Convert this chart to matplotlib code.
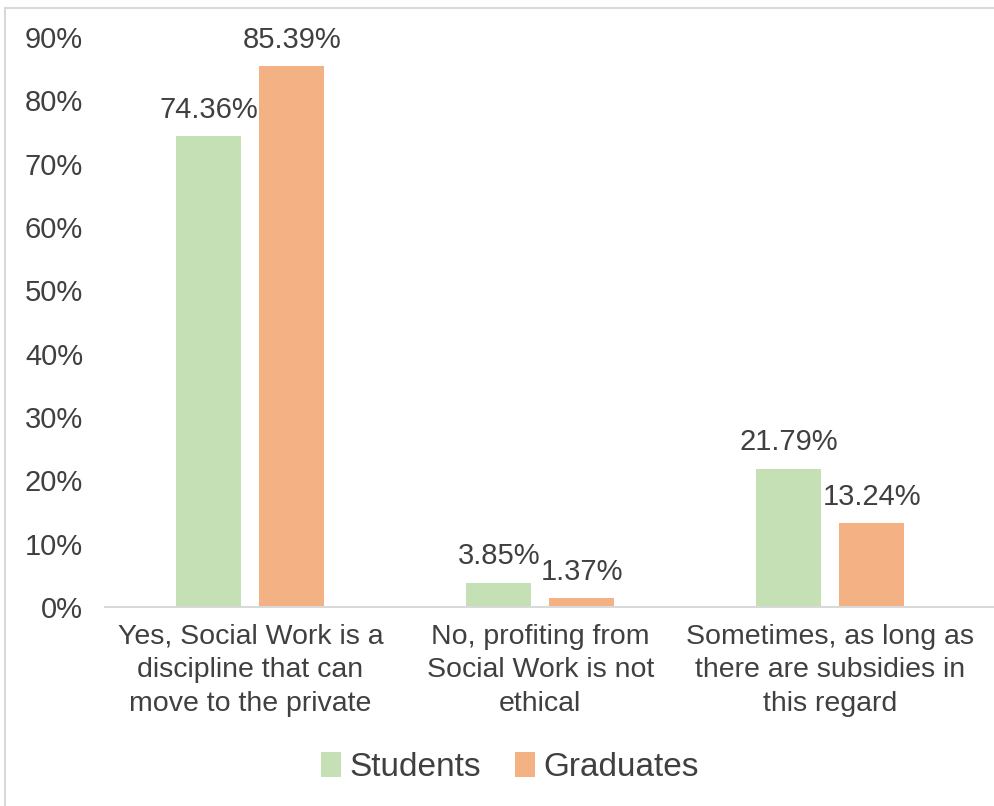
import numpy as np
import matplotlib
matplotlib.use("Agg")
import matplotlib.pyplot as plt
from matplotlib.patches import Rectangle

# === Data ===
categories = [
    "Yes, Social Work is a\ndiscipline that can\nmove to the private",
    "No, profiting from\nSocial Work is not\nethical",
    "Sometimes, as long as\nthere are subsidies in\nthis regard",
]
students = [74.36, 3.85, 21.79]
graduates = [85.39, 1.37, 13.24]
yticks = [0, 10, 20, 30, 40, 50, 60, 70, 80, 90]

GREEN = "#C5E0B4"
ORANGE = "#F4B183"
TEXT = "#404040"

plt.rcParams["font.family"] = ["Liberation Sans", "DejaVu Sans"]

fig = plt.figure(figsize=(9.94, 8.06), dpi=100)
ax = fig.add_axes([0.106, 0.247, 0.875, 0.707])

# light border round the chart area
fig.patches.append(Rectangle((0.005, -0.01), 1.2, 1.0, transform=fig.transFigure,
                             fill=False, edgecolor="#D9D9D9", linewidth=1.5))

x = np.arange(len(categories))
w = 0.224
off = 0.143
b1 = ax.bar(x - off, students, w, color=GREEN, label="Students")
b2 = ax.bar(x + off, graduates, w, color=ORANGE, label="Graduates")

for bars, vals in ((b1, students), (b2, graduates)):
    for rect, v in zip(bars, vals):
        ax.annotate(f"{v:.2f}%", (rect.get_x() + rect.get_width() / 2, v),
                    xytext=(0, 9), textcoords="offset points",
                    ha="center", va="bottom", fontsize=21, color=TEXT)

ax.set_xlim(-0.5, 2.5)
ax.set_ylim(0, 90)
ax.set_yticks(yticks)
ax.set_yticklabels([f"{t}%" for t in yticks], fontsize=21, color=TEXT)
ax.set_xticks(x)
ax.set_xticklabels(categories, fontsize=20.5, color=TEXT, linespacing=1.38)
ax.tick_params(axis="x", length=0, pad=12)
ax.tick_params(axis="y", length=0, pad=16)
for s in ["top", "right", "left"]:
    ax.spines[s].set_visible(False)
ax.spines["bottom"].set_color("#D9D9D9")
ax.spines["bottom"].set_linewidth(1.5)
ax.spines["bottom"].set_bounds(-0.5, 2.6)
ax.spines["bottom"].set_clip_on(False)

leg = fig.legend(handles=[b1, b2], loc="center", bbox_to_anchor=(0.513, 0.048),
                 ncol=2, frameon=False, fontsize=24, handlelength=0.6,
                 handleheight=0.8, handletextpad=0.25, columnspacing=1.0)
for t in leg.get_texts():
    t.set_color(TEXT)

fig.savefig("out.png", dpi=100)
plt.close(fig)
